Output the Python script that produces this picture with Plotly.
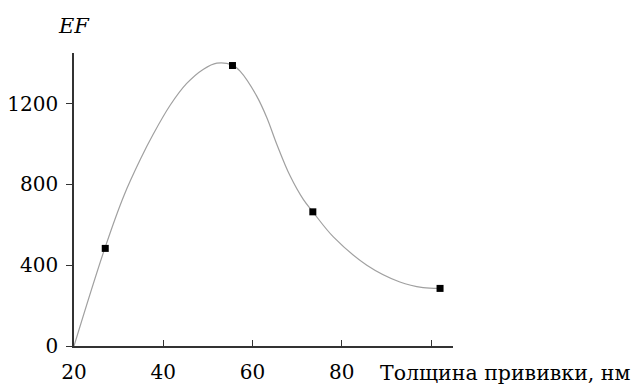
import plotly.graph_objects as go

# measured points
point_x = [27, 55.5, 73.5, 102]
point_y = [483, 1388, 664, 285]

# fitted curve
curve_x = [20, 26.9, 31.2, 34.9, 37.8, 41.5, 45.2, 49.0, 52.0, 55.5, 57.2, 60.9, 63.2,
           65.4, 68.4, 71.4, 73.5, 78.1, 85.6, 93.0, 98.2, 102]
curve_y = [0, 483, 745, 925, 1050, 1190, 1298, 1370, 1400, 1390, 1360, 1238, 1130,
           1000, 842, 724, 664, 540, 400, 317, 289, 285]

x_tickvals = [20, 40, 60, 80, 100]
x_ticktext = ["20", "40", "60", "80", ""]
y_tickvals = [0, 400, 800, 1200]
y_ticktext = ["0", "400", "800", "1200"]

x_title = "Толщина прививки, нм"
y_title = "EF"

FONT = "DejaVu Serif"

fig = go.Figure()
fig.add_trace(go.Scatter(x=curve_x, y=curve_y, mode="lines",
                         line=dict(color="#a0a0a0", width=1.2, shape="spline", smoothing=1.0),
                         showlegend=False, hoverinfo="skip"))
fig.add_trace(go.Scatter(x=point_x, y=point_y, mode="markers",
                         marker=dict(symbol="square", size=7, color="black"),
                         showlegend=False))

fig.update_layout(
    width=642, height=385,
    margin=dict(l=74, r=189, t=53, b=39),
    paper_bgcolor="white", plot_bgcolor="white",
    font=dict(family=FONT, size=20, color="black"),
    xaxis=dict(range=[20, 104.9], tickvals=x_tickvals, ticktext=x_ticktext,
               ticks="inside", ticklen=6, tickcolor="#333", tickwidth=1.3,
               showline=True, linecolor="#333", linewidth=1.5, automargin=False,
               showgrid=False, zeroline=False, ticklabelstandoff=7,
               tickfont=dict(family=FONT, size=20)),
    yaxis=dict(range=[0, 1450], tickvals=y_tickvals, ticktext=y_ticktext,
               ticks="outside", ticklen=6, tickcolor="#333", tickwidth=1.3,
               showline=True, linecolor="#333", linewidth=1.5, automargin=False,
               showgrid=False, zeroline=False, ticklabelstandoff=4,
               tickfont=dict(family=FONT, size=20)),
    annotations=[
        dict(text=x_title, xref="paper", yref="paper", x=0.802, y=-0.092,
             xanchor="left", yanchor="middle", showarrow=False,
             font=dict(family=FONT, size=20.5)),
        dict(text="<i>" + y_title + "</i>", xref="paper", yref="paper", x=0.0, y=1.092,
             xanchor="center", yanchor="middle", showarrow=False,
             font=dict(family=FONT, size=21)),
    ],
)

fig.write_html("out.html")
